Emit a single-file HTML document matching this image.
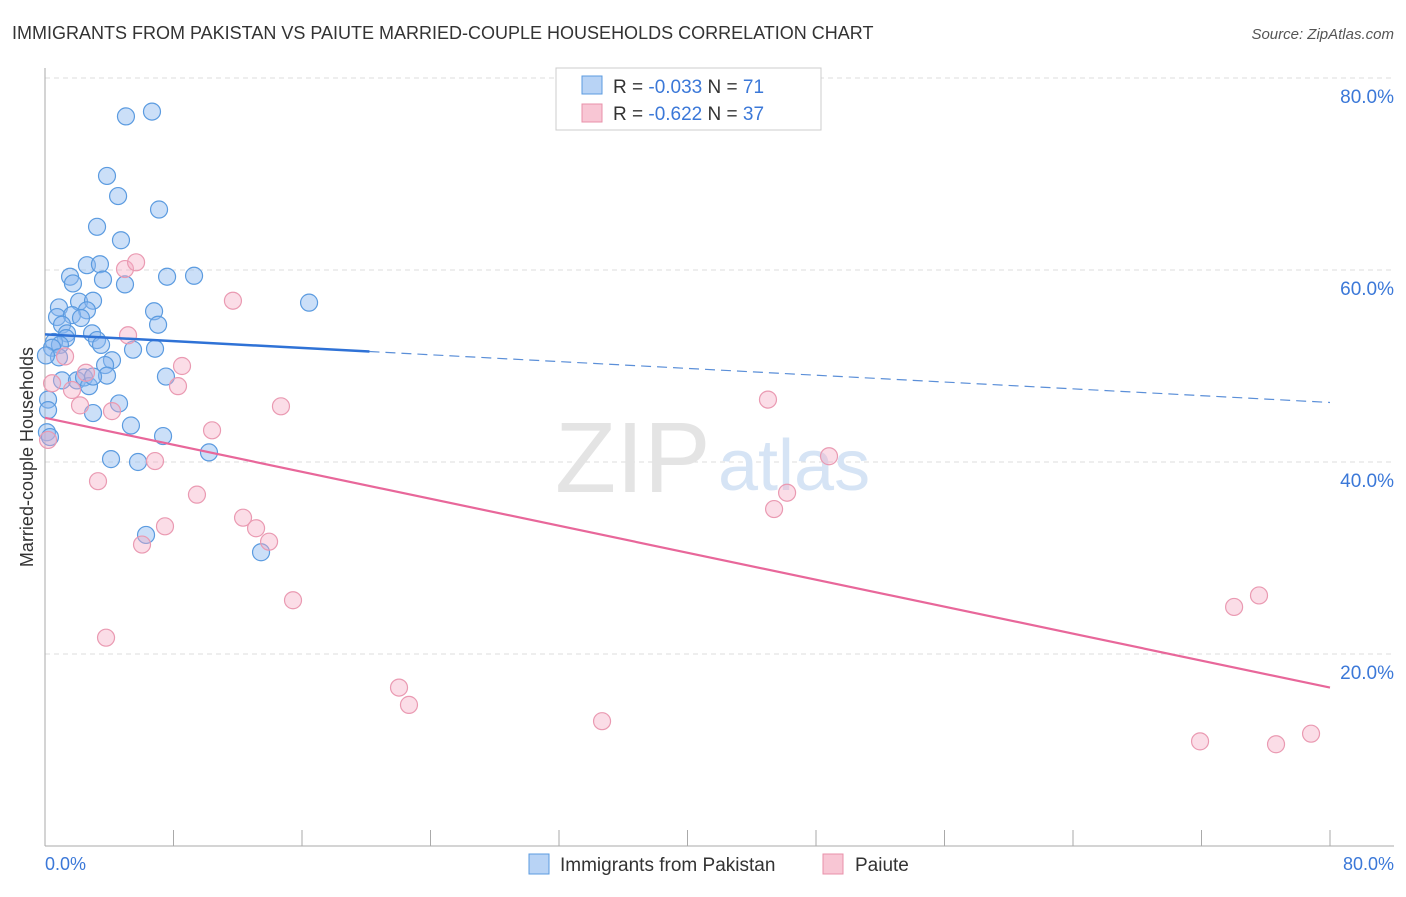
<!DOCTYPE html>
<html><head><meta charset="utf-8"><style>
body{margin:0;background:#fff;font-family:"Liberation Sans",sans-serif;}
svg text{font-family:"Liberation Sans",sans-serif;}
</style></head><body>
<svg width="1406" height="892" viewBox="0 0 1406 892" xmlns="http://www.w3.org/2000/svg">
<text x="12" y="39" font-size="18" fill="#333">IMMIGRANTS FROM PAKISTAN VS PAIUTE MARRIED-COUPLE HOUSEHOLDS CORRELATION CHART</text>
<text x="1394" y="39" font-size="15" fill="#555" font-style="italic" text-anchor="end">Source: ZipAtlas.com</text>
<g id="grid"></g>
<text x="555" y="492" font-size="100" fill="#e4e4e4" font-family="Liberation Serif">ZIP</text>
<text x="718" y="490" font-size="72" fill="#d6e4f5">atlas</text>
<line x1="45" y1="68" x2="45" y2="846" stroke="#aaa"/>
<line x1="45" y1="846" x2="1394" y2="846" stroke="#aaa"/>
<g id="ticks"></g>
<g id="marks"></g>
<g id="trends"></g>
<text x="33" y="457" font-size="18" fill="#333" text-anchor="middle" transform="rotate(-90 33 457)">Married-couple Households</text>
<text x="45" y="870" font-size="18" fill="#3b78d8">0.0%</text>
<text x="1394" y="870" font-size="18" fill="#3b78d8" text-anchor="end">80.0%</text>
<g>
<rect x="556" y="68" width="265" height="62" fill="#fff" stroke="#ccc"/>
<rect x="582" y="76" width="20" height="18" fill="#b8d3f5" stroke="#5b9be0"/>
<rect x="582" y="104" width="20" height="18" fill="#f8c6d4" stroke="#e890aa"/>
<text x="613" y="93" font-size="19" fill="#333">R = <tspan fill="#3b78d8">-0.033</tspan>   N = <tspan fill="#3b78d8">71</tspan></text>
<text x="613" y="120" font-size="19" fill="#333">R = <tspan fill="#3b78d8">-0.622</tspan>   N = <tspan fill="#3b78d8">37</tspan></text>
</g>
<g>
<rect x="529" y="854" width="20" height="20" fill="#b8d3f5" stroke="#5b9be0"/>
<text x="560" y="871" font-size="19" fill="#333">Immigrants from Pakistan</text>
<rect x="823" y="854" width="20" height="20" fill="#f8c6d4" stroke="#e890aa"/>
<text x="855" y="871" font-size="19" fill="#333">Paiute</text>
</g>
</svg>
<script>
const yTicks=[20,40,60,80];
const yTickLabels=["20.0%","40.0%","60.0%","80.0%"];
const xTickVals=[0,8,16,24,32,40,48,56,64,72,80];
const blueX=[5.04,6.66,3.86,4.55,7.10,3.24,4.73,2.61,3.42,1.56,1.74,3.61,4.98,7.60,9.28,16.44,0.87,2.12,2.99,2.61,0.75,1.68,2.24,6.79,7.04,1.06,1.37,2.93,3.24,3.49,1.31,0.56,0.93,0.44,0.87,4.17,5.48,6.85,3.74,3.86,7.53,1.06,1.99,2.43,2.74,2.99,4.61,2.99,5.35,7.35,10.21,4.11,5.79,6.29,13.45,0.19,0.19,0.12,0.31,0.06];
const blueY=[76.0,76.5,69.8,67.7,66.3,64.5,63.1,60.5,60.6,59.3,58.6,59.0,58.5,59.3,59.4,56.6,56.1,56.7,56.8,55.8,55.1,55.3,55.0,55.7,54.3,54.3,53.4,53.4,52.7,52.2,52.9,52.5,52.2,51.9,50.9,50.6,51.7,51.8,50.1,49.0,48.9,48.5,48.5,48.8,47.9,48.9,46.1,45.1,43.8,42.7,41.0,40.3,40.0,32.4,30.6,46.5,45.4,43.1,42.6,51.1];
const pinkX=[4.98,5.67,11.70,5.17,8.53,8.28,1.25,0.44,2.55,1.68,2.18,4.17,14.69,10.40,6.85,3.30,9.46,12.33,13.14,13.95,7.47,6.04,3.80,15.44,22.04,22.66,34.68,45.01,48.81,46.20,45.39,75.58,74.03,71.91,76.64,78.82,0.19];
const pinkY=[60.1,60.8,56.8,53.2,50.0,47.9,51.0,48.2,49.3,47.5,45.9,45.3,45.8,43.3,40.1,38.0,36.6,34.2,33.1,31.7,33.3,31.4,21.7,25.6,16.5,14.7,13.0,46.5,40.6,36.8,35.1,26.1,24.9,10.9,10.6,11.7,42.3];
const blueTrend=[53.3,46.2];
const pinkTrend=[44.6,16.5];
const X=v=>45+v/80*1285, Y=v=>846-v*9.6;
const NS="http://www.w3.org/2000/svg";
function mk(p,t,a){const e=document.createElementNS(NS,t);for(const k in a)e.setAttribute(k,a[k]);p.appendChild(e);return e;}
const grid=document.getElementById('grid');
yTicks.forEach((v,i)=>{
 const l=mk(grid,'line',{x1:45,x2:1394,y1:Y(v),y2:Y(v),stroke:'#ddd','stroke-dasharray':'5,4'});
 
 
 const t=mk(grid,'text',{x:1394,y:Y(v)+25,'font-size':19,fill:'#3b78d8','text-anchor':'end'});
 t.textContent=yTickLabels[i];
 
 
});
const tk=document.getElementById('ticks');
xTickVals.forEach(v=>{
 const l=mk(tk,'line',{x1:X(v),x2:X(v),y1:830,y2:846,stroke:'#aaa'});
 
 
});
const m=document.getElementById('marks');
blueX.forEach((x,i)=>{
 const c=mk(m,'circle',{cx:X(x),cy:Y(blueY[i]),r:8.5,fill:'rgba(140,185,240,0.45)',stroke:'#5b9be0','stroke-width':1.2});
 
 
});
pinkX.forEach((x,i)=>{
 const c=mk(m,'circle',{cx:X(x),cy:Y(pinkY[i]),r:8.5,fill:'rgba(245,170,195,0.4)',stroke:'#ea9ab2','stroke-width':1.2});
 
 
});
const tr=document.getElementById('trends');
const by=x=>blueTrend[0]+(blueTrend[1]-blueTrend[0])*x/80;
let a=mk(tr,'line',{x1:X(0),y1:Y(by(0)),x2:X(20.2),y2:Y(by(20.2)),stroke:'#2f72d6','stroke-width':2.5});


a=mk(tr,'line',{x1:X(20.2),y1:Y(by(20.2)),x2:X(80),y2:Y(by(80)),stroke:'#5b8fd8','stroke-width':1.2,'stroke-dasharray':'10,6'});


a=mk(tr,'line',{x1:X(0),y1:Y(pinkTrend[0]),x2:X(80),y2:Y(pinkTrend[1]),stroke:'#e8679a','stroke-width':2.2});


</script>
</body></html>
